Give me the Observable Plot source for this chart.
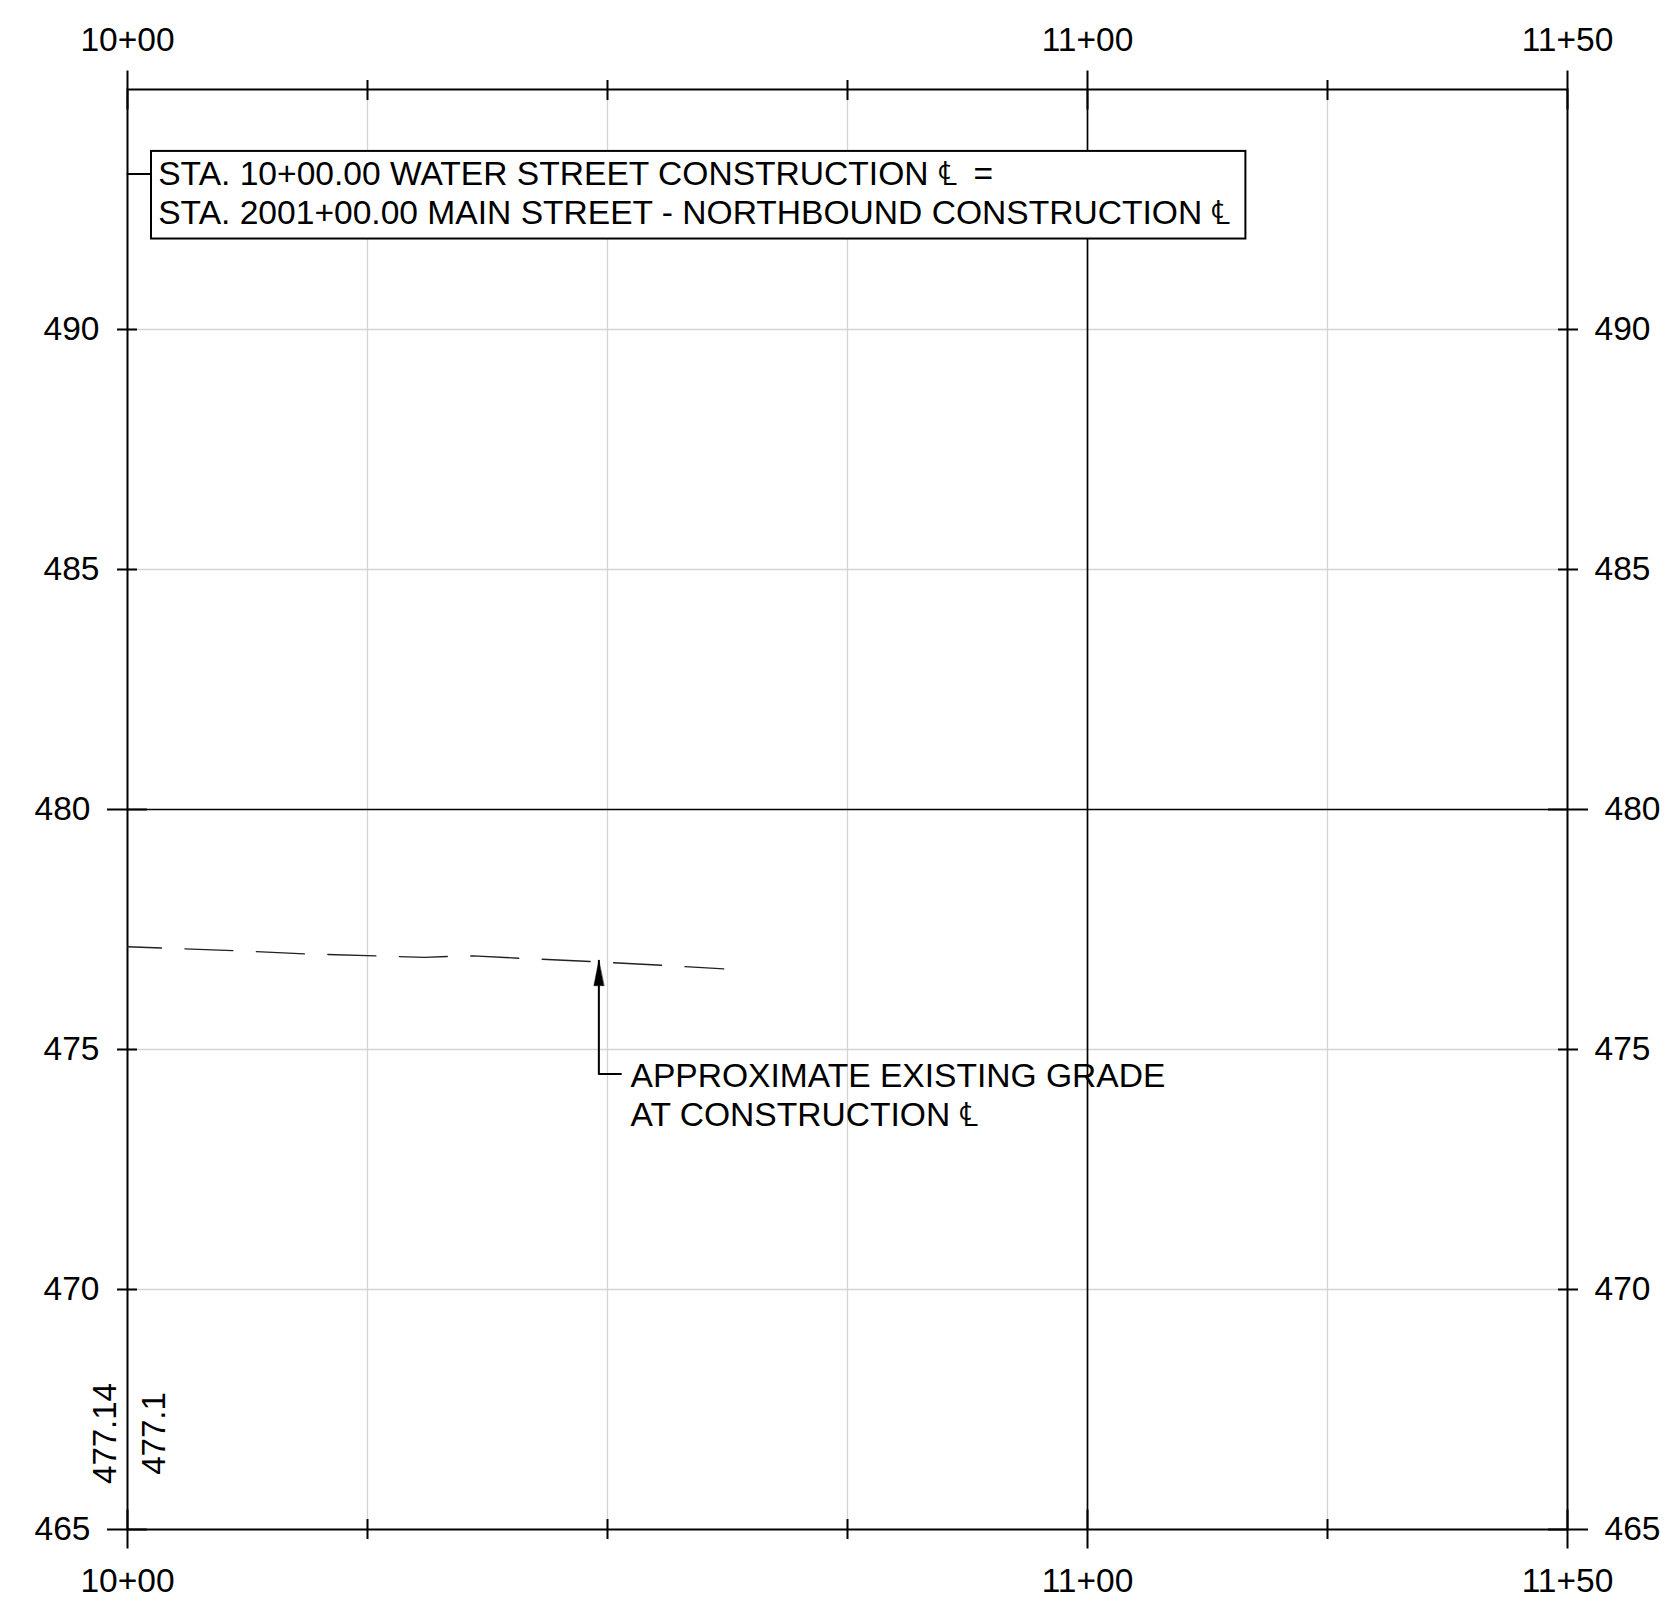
<!DOCTYPE html>
<html>
<head>
<meta charset="utf-8">
<script src="https://cdn.jsdelivr.net/npm/d3@7"></script>
<script src="https://cdn.jsdelivr.net/npm/@observablehq/plot@0.6"></script>
<style>
  html, body { margin: 0; padding: 0; background: #fff; }
  #chart svg { display: block; }
</style>
</head>
<body>
<div id="chart"></div>
<script>
// ---- data ----
const stationsMajor = [1000, 1100, 1150];          // labelled stations
const stationsMinor = [1025, 1050, 1075, 1125];    // unlabelled stations
const stationsInnerMajor = [1100];                 // heavy interior grid line
const elevTickMajor = [465, 480];
const elevMinor = [470, 475, 485, 490];
const elevInnerMajor = [480];

// approximate existing grade at construction centerline
const gradeStation = [1000, 1011.1, 1018.6, 1026.0, 1030.9, 1033.6, 1036.0, 1041.0, 1048.5, 1056.1, 1062.1];
const gradeElev    = [477.14, 477.06, 476.99, 476.95, 476.92, 476.94, 476.95, 476.90, 476.83, 476.75, 476.68];

// elevation labels at station 10+00
const elevLabelText = ["477.14", "477.1"];
const elevLabelStation = [1000, 1000];
const elevLabelElev = [467, 467];

// callout: station equation
const calloutText = "STA. 10+00.00 WATER STREET CONSTRUCTION \u2104\u2002=\nSTA. 2001+00.00 MAIN STREET - NORTHBOUND CONSTRUCTION \u2104";
const calloutStation = [1003.2];
const calloutElev = [493.60];
const calloutBoxStation = [1002.5, 1116.5];
const calloutBoxElev = [491.885, 493.71];
const calloutLeaderStation = [1000, 1002.5];
const calloutLeaderElev = [493.24, 493.24];

// note: existing grade
const noteText = "APPROXIMATE EXISTING GRADE\nAT CONSTRUCTION \u2104";
const noteStation = [1052.4];
const noteElev = [474.81];
const noteLeaderStation = [1049.1, 1049.1, 1051.4];
const noteLeaderElev = [476.85, 474.49, 474.49];

// ---- derived tables ----
const grade = gradeStation.map((s, i) => ({station: s, elev: gradeElev[i]}));
const noteLeader = noteLeaderStation.map((s, i) => ({station: s, elev: noteLeaderElev[i]}));
const calloutLeader = calloutLeaderStation.map((s, i) => ({station: s, elev: calloutLeaderElev[i]}));
const calloutBox = [{x1: calloutBoxStation[0], x2: calloutBoxStation[1], y1: calloutBoxElev[0], y2: calloutBoxElev[1]}];

const fmtSta = d => `${Math.floor(d / 100)}+${String(Math.round(d % 100)).padStart(2, "0")}`;
const blank = () => "";
const font = "'Liberation Sans', Arial, Helvetica, sans-serif";
const gridGray = "#d4d4d4";

const arrowHead = {
  draw(context, l) {
    context.moveTo(0, 0);
    context.lineTo(-5, l);
    context.lineTo(5, l);
    context.closePath();
  }
};

const chart = Plot.plot({
  width: 1667,
  height: 1602,
  marginLeft: 127,
  marginRight: 100,
  marginTop: 89,
  marginBottom: 73,
  x: {domain: [1000, 1150]},
  y: {domain: [465, 495]},
  style: {fontFamily: font, fontSize: "33.5px", color: "black", background: "white"},
  marks: [
    // light grid
    Plot.ruleX(stationsMinor, {stroke: gridGray, strokeWidth: 1.3}),
    Plot.ruleY(elevMinor, {stroke: gridGray, strokeWidth: 1.3}),
    // heavy interior grid
    Plot.ruleX(stationsInnerMajor, {stroke: "black", strokeWidth: 1.7}),
    Plot.ruleY(elevInnerMajor, {stroke: "black", strokeWidth: 1.7}),
    Plot.frame({stroke: "black", strokeWidth: 2}),

    // ticks crossing the frame (top / bottom)
    Plot.axisX(stationsMajor, {anchor: "top", tickSize: 39, dy: 19.5, tickFormat: blank, strokeWidth: 2, label: null}),
    Plot.axisX(stationsMinor, {anchor: "top", tickSize: 20, dy: 10, tickFormat: blank, strokeWidth: 2, label: null}),
    Plot.axisX(stationsMajor, {anchor: "bottom", tickSize: 39, dy: -19.5, tickFormat: blank, strokeWidth: 2, label: null}),
    Plot.axisX(stationsMinor, {anchor: "bottom", tickSize: 20, dy: -10, tickFormat: blank, strokeWidth: 2, label: null}),
    // station labels
    Plot.axisX(stationsMajor, {anchor: "top", tickSize: 0, tickPadding: 39, tickFormat: fmtSta, label: null}),
    Plot.axisX(stationsMajor, {anchor: "bottom", tickSize: 0, tickPadding: 39, tickFormat: fmtSta, label: null}),

    // ticks crossing the frame (left / right)
    Plot.axisY(elevTickMajor, {anchor: "left", tickSize: 40, dx: 20, tickFormat: blank, strokeWidth: 2, label: null}),
    Plot.axisY(elevMinor, {anchor: "left", tickSize: 20, dx: 10, tickFormat: blank, strokeWidth: 2, label: null}),
    Plot.axisY(elevTickMajor, {anchor: "right", tickSize: 40, dx: -20, tickFormat: blank, strokeWidth: 2, label: null}),
    Plot.axisY(elevMinor, {anchor: "right", tickSize: 20, dx: -10, tickFormat: blank, strokeWidth: 2, label: null}),
    // elevation labels
    Plot.axisY(elevTickMajor, {anchor: "left", tickSize: 0, tickPadding: 37, label: null}),
    Plot.axisY(elevMinor, {anchor: "left", tickSize: 0, tickPadding: 28, label: null}),
    Plot.axisY(elevTickMajor, {anchor: "right", tickSize: 0, tickPadding: 37, label: null}),
    Plot.axisY(elevMinor, {anchor: "right", tickSize: 0, tickPadding: 27, label: null}),

    // callout box with station equation
    Plot.line(calloutLeader, {x: "station", y: "elev", stroke: "black", strokeWidth: 2}),
    Plot.rect(calloutBox, {x1: "x1", x2: "x2", y1: "y1", y2: "y2", fill: "white", stroke: "black", strokeWidth: 2}),
    Plot.text([calloutText], {x: calloutStation, y: calloutElev, text: d => d, textAnchor: "start", lineAnchor: "top", lineHeight: 1.18, fill: "black", fontSize: 33.6}),

    // existing grade
    Plot.line(grade, {x: "station", y: "elev", stroke: "#222", strokeWidth: 1.4, strokeDasharray: "48,23.5", strokeDashoffset: 14}),

    // note leader + arrow
    Plot.line(noteLeader, {x: "station", y: "elev", stroke: "black", strokeWidth: 2}),
    Plot.vector([noteLeader[0]], {x: "station", y: "elev", length: 25, anchor: "start", shape: arrowHead, fill: "black", stroke: "black", strokeWidth: 0.5}),
    Plot.text([noteText], {x: noteStation, y: noteElev, text: d => d, textAnchor: "start", lineAnchor: "top", lineHeight: 1.17, fill: "black", fontSize: 33.6}),

    // rotated elevation labels at 10+00
    Plot.text([elevLabelText[0]], {x: [elevLabelStation[0]], y: [elevLabelElev[0]], text: d => d, rotate: -90, dx: -22, textAnchor: "middle", lineAnchor: "middle", fill: "black", fontSize: 33}),
    Plot.text([elevLabelText[1]], {x: [elevLabelStation[1]], y: [elevLabelElev[1]], text: d => d, rotate: -90, dx: 26.7, textAnchor: "middle", lineAnchor: "middle", fill: "black", fontSize: 33})
  ]
});

document.getElementById("chart").appendChild(chart);
</script>
</body>
</html>
